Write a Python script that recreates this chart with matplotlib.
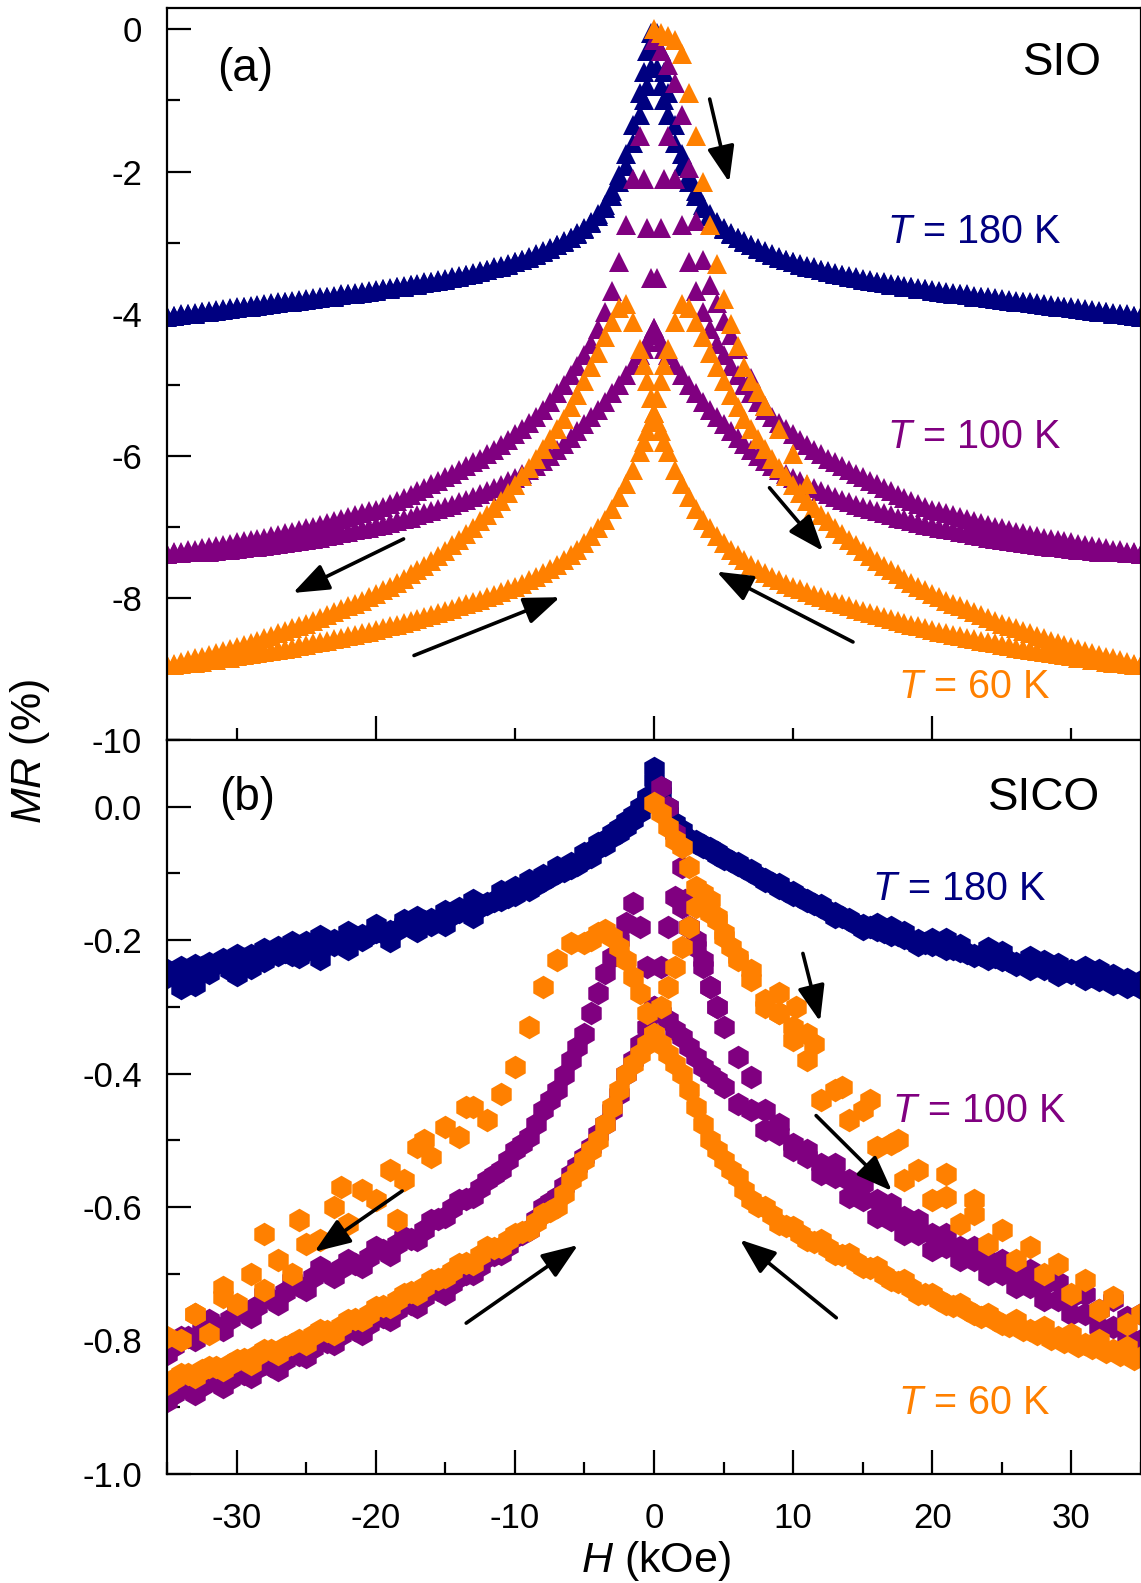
import matplotlib
matplotlib.use("Agg")
import matplotlib.pyplot as plt
from matplotlib.ticker import MultipleLocator

plt.rcParams["font.family"] = ["Liberation Sans", "DejaVu Sans"]
plt.rcParams["mathtext.fontset"] = "custom"
plt.rcParams["mathtext.rm"] = "Liberation Sans"
plt.rcParams["mathtext.it"] = "Liberation Sans:italic"
plt.rcParams["axes.unicode_minus"] = False

NAVY = "#000080"
PURPLE = "#800080"
ORANGE = "#ff8000"

# ---------------- (a) SIO : field grid (kOe) and MR (%) per sweep ----------------
H_A = [-35, -34.5, -34, -33.5, -33, -32.5, -32, -31.5, -31, -30.5,
       -30, -29.5, -29, -28.5, -28, -27.5, -27, -26.5, -26, -25.5,
       -25, -24.5, -24, -23.5, -23, -22.5, -22, -21.5, -21, -20.5,
       -20, -19.5, -19, -18.5, -18, -17.5, -17, -16.5, -16, -15.5,
       -15, -14.5, -14, -13.5, -13, -12.5, -12, -11.5, -11, -10.5,
       -10, -9.5, -9, -8.5, -8, -7.5, -7, -6.5, -6, -5.5,
       -5, -4.5, -4, -3.5, -3, -2.5, -2, -1.5,
       -1, -0.75, -0.5, -0.25, 0, 0.25, 0.5, 0.75, 1,
       1.5, 2, 2.5, 3, 3.5, 4, 4.5, 5,
       5.5, 6, 6.5, 7, 7.5, 8, 8.5, 9, 9.5, 10,
       10.5, 11, 11.5, 12, 12.5, 13, 13.5, 14, 14.5, 15,
       15.5, 16, 16.5, 17, 17.5, 18, 18.5, 19, 19.5, 20,
       20.5, 21, 21.5, 22, 22.5, 23, 23.5, 24, 24.5, 25,
       25.5, 26, 26.5, 27, 27.5, 28, 28.5, 29, 29.5, 30,
       30.5, 31, 31.5, 32, 32.5, 33, 33.5, 34, 34.5, 35]

# T = 180 K, sweep +35 -> -35 (down) and -35 -> +35 (up)
sio_180_down = [-4.04, -4.03, -4.01, -4.00, -3.99, -3.97, -3.96, -3.95, -3.94, -3.92,
                -3.91, -3.90, -3.89, -3.88, -3.87, -3.85, -3.84, -3.83, -3.82, -3.81,
                -3.80, -3.78, -3.77, -3.76, -3.75, -3.73, -3.72, -3.71, -3.70, -3.68,
                -3.67, -3.65, -3.64, -3.62, -3.61, -3.59, -3.58, -3.56, -3.55, -3.53,
                -3.51, -3.49, -3.47, -3.45, -3.43, -3.40, -3.38, -3.35, -3.33, -3.30,
                -3.27, -3.24, -3.20, -3.16, -3.12, -3.08, -3.03, -2.98, -2.93, -2.87,
                -2.80, -2.71, -2.60, -2.47, -2.28, -2.05, -1.75, -1.35,
                -0.90, -0.60, -0.30, -0.05, -0.30, -0.55, -0.80, -1.00, -1.20,
                -1.60, -1.92, -2.15, -2.35, -2.52, -2.63, -2.73, -2.81,
                -2.88, -2.94, -2.99, -3.04, -3.09, -3.13, -3.17, -3.21, -3.25, -3.28,
                -3.31, -3.34, -3.36, -3.39, -3.41, -3.44, -3.46, -3.48, -3.50, -3.52,
                -3.54, -3.56, -3.57, -3.59, -3.60, -3.62, -3.63, -3.65, -3.66, -3.68,
                -3.69, -3.71, -3.72, -3.73, -3.74, -3.76, -3.77, -3.78, -3.79, -3.81,
                -3.82, -3.83, -3.84, -3.85, -3.86, -3.88, -3.89, -3.90, -3.91, -3.92,
                -3.93, -3.95, -3.96, -3.97, -3.98, -4.00, -4.01, -4.02, -4.04, -4.05]
sio_180_up = [-4.05, -4.04, -4.02, -4.01, -4.00, -3.98, -3.97, -3.96, -3.95, -3.93,
              -3.92, -3.91, -3.90, -3.89, -3.88, -3.86, -3.85, -3.84, -3.83, -3.82,
              -3.81, -3.79, -3.78, -3.77, -3.76, -3.74, -3.73, -3.72, -3.71, -3.69,
              -3.68, -3.66, -3.65, -3.63, -3.62, -3.60, -3.59, -3.57, -3.56, -3.54,
              -3.52, -3.50, -3.48, -3.46, -3.44, -3.41, -3.39, -3.36, -3.34, -3.31,
              -3.28, -3.25, -3.21, -3.17, -3.13, -3.09, -3.04, -2.99, -2.94, -2.88,
              -2.81, -2.73, -2.63, -2.52, -2.35, -2.15, -1.92, -1.60,
              -1.20, -1.00, -0.80, -0.55, -0.30, -0.05, -0.30, -0.60, -0.90,
              -1.35, -1.75, -2.05, -2.28, -2.47, -2.60, -2.71, -2.80,
              -2.87, -2.93, -2.98, -3.03, -3.08, -3.12, -3.16, -3.20, -3.24, -3.27,
              -3.30, -3.33, -3.35, -3.38, -3.40, -3.43, -3.45, -3.47, -3.49, -3.51,
              -3.53, -3.55, -3.56, -3.58, -3.59, -3.61, -3.62, -3.64, -3.65, -3.67,
              -3.68, -3.70, -3.71, -3.72, -3.73, -3.75, -3.76, -3.77, -3.78, -3.80,
              -3.81, -3.82, -3.83, -3.84, -3.85, -3.87, -3.88, -3.89, -3.90, -3.91,
              -3.92, -3.94, -3.95, -3.96, -3.97, -3.99, -4.00, -4.01, -4.03, -4.04]

# T = 100 K
sio_100_down = [-7.38, -7.36, -7.35, -7.33, -7.32, -7.30, -7.29, -7.27, -7.26, -7.24,
                -7.22, -7.20, -7.19, -7.17, -7.15, -7.13, -7.11, -7.09, -7.07, -7.05,
                -7.02, -7.00, -6.97, -6.95, -6.92, -6.89, -6.86, -6.83, -6.80, -6.78,
                -6.76, -6.72, -6.68, -6.64, -6.60, -6.55, -6.50, -6.45, -6.40, -6.35,
                -6.30, -6.25, -6.20, -6.15, -6.09, -6.04, -5.98, -5.92, -5.85, -5.78,
                -5.70, -5.62, -5.54, -5.45, -5.35, -5.24, -5.12, -5.00, -4.87, -4.73,
                -4.58, -4.42, -4.22, -3.98, -3.68, -3.28, -2.75, -2.10,
                -1.50, -2.10, -2.80, -3.50, -4.20, -4.30, -4.40, -4.50, -4.58,
                -4.72, -4.87, -5.00, -5.12, -5.24, -5.35, -5.45, -5.55,
                -5.65, -5.75, -5.84, -5.92, -6.00, -6.07, -6.14, -6.20, -6.26, -6.31,
                -6.36, -6.41, -6.46, -6.50, -6.54, -6.58, -6.62, -6.65, -6.69, -6.72,
                -6.75, -6.78, -6.81, -6.84, -6.87, -6.89, -6.92, -6.94, -6.97, -6.99,
                -7.01, -7.03, -7.05, -7.07, -7.09, -7.11, -7.13, -7.15, -7.17, -7.18,
                -7.20, -7.21, -7.23, -7.24, -7.26, -7.27, -7.28, -7.29, -7.30, -7.31,
                -7.32, -7.33, -7.34, -7.35, -7.35, -7.36, -7.36, -7.37, -7.37, -7.38]
sio_100_up = [-7.38, -7.37, -7.37, -7.36, -7.36, -7.35, -7.35, -7.34, -7.33, -7.32,
              -7.31, -7.30, -7.29, -7.28, -7.27, -7.26, -7.24, -7.23, -7.21, -7.20,
              -7.18, -7.17, -7.15, -7.13, -7.11, -7.09, -7.07, -7.05, -7.03, -7.01,
              -6.99, -6.97, -6.94, -6.92, -6.89, -6.87, -6.84, -6.81, -6.78, -6.75,
              -6.72, -6.69, -6.65, -6.62, -6.58, -6.54, -6.50, -6.46, -6.41, -6.36,
              -6.31, -6.26, -6.20, -6.14, -6.07, -6.00, -5.92, -5.84, -5.75, -5.65,
              -5.55, -5.45, -5.35, -5.24, -5.12, -5.00, -4.87, -4.72,
              -4.58, -4.50, -4.40, -4.30, -4.20, -3.50, -2.80, -2.10, -1.50,
              -2.10, -2.75, -3.28, -3.68, -3.98, -4.22, -4.42, -4.58,
              -4.73, -4.87, -5.00, -5.12, -5.24, -5.35, -5.45, -5.54, -5.62, -5.70,
              -5.78, -5.85, -5.92, -5.98, -6.04, -6.09, -6.15, -6.20, -6.25, -6.30,
              -6.35, -6.40, -6.45, -6.50, -6.55, -6.60, -6.64, -6.68, -6.72, -6.76,
              -6.78, -6.80, -6.83, -6.86, -6.89, -6.92, -6.95, -6.97, -7.00, -7.02,
              -7.05, -7.07, -7.09, -7.11, -7.13, -7.15, -7.17, -7.19, -7.20, -7.22,
              -7.24, -7.26, -7.27, -7.29, -7.30, -7.32, -7.33, -7.35, -7.36, -7.38]

# T = 60 K
sio_60_down = [-8.95, -8.93, -8.90, -8.88, -8.85, -8.83, -8.80, -8.77, -8.75, -8.72,
               -8.69, -8.66, -8.63, -8.60, -8.57, -8.53, -8.50, -8.47, -8.43, -8.40,
               -8.36, -8.32, -8.28, -8.24, -8.20, -8.16, -8.12, -8.08, -8.04, -7.99,
               -7.94, -7.89, -7.84, -7.79, -7.73, -7.67, -7.61, -7.55, -7.48, -7.41,
               -7.34, -7.26, -7.18, -7.10, -7.01, -6.92, -6.83, -6.73, -6.63, -6.52,
               -6.41, -6.29, -6.17, -6.04, -5.91, -5.77, -5.63, -5.48, -5.32, -5.15,
               -4.95, -4.75, -4.55, -4.33, -4.12, -3.92, -3.87, -4.12,
               -4.50, -4.72, -4.95, -5.18, -5.40, -5.52, -5.65, -5.80, -5.95,
               -6.20, -6.40, -6.58, -6.75, -6.90, -7.02, -7.13, -7.23,
               -7.32, -7.40, -7.47, -7.53, -7.59, -7.65, -7.70, -7.75, -7.80, -7.84,
               -7.88, -7.92, -7.96, -7.99, -8.03, -8.06, -8.09, -8.12, -8.15, -8.18,
               -8.21, -8.24, -8.27, -8.30, -8.33, -8.35, -8.38, -8.40, -8.43, -8.45,
               -8.48, -8.50, -8.52, -8.54, -8.56, -8.58, -8.60, -8.62, -8.64, -8.66,
               -8.68, -8.70, -8.72, -8.73, -8.75, -8.76, -8.78, -8.79, -8.81, -8.82,
               -8.84, -8.85, -8.87, -8.88, -8.90, -8.91, -8.92, -8.93, -8.94, -8.95]
sio_60_up = [-8.95, -8.94, -8.93, -8.92, -8.91, -8.90, -8.88, -8.87, -8.85, -8.84,
             -8.82, -8.81, -8.79, -8.78, -8.76, -8.75, -8.73, -8.72, -8.70, -8.68,
             -8.66, -8.64, -8.62, -8.60, -8.58, -8.56, -8.54, -8.52, -8.50, -8.48,
             -8.45, -8.43, -8.40, -8.38, -8.35, -8.33, -8.30, -8.27, -8.24, -8.21,
             -8.18, -8.15, -8.12, -8.09, -8.06, -8.03, -7.99, -7.96, -7.92, -7.88,
             -7.84, -7.80, -7.75, -7.70, -7.65, -7.59, -7.53, -7.47, -7.40, -7.32,
             -7.23, -7.13, -7.02, -6.90, -6.75, -6.58, -6.40, -6.20,
             -5.95, -5.80, -5.65, -5.52, -5.40, -5.18, -4.95, -4.72, -4.50,
             -4.12, -3.87, -3.92, -4.12, -4.33, -4.55, -4.75, -4.95,
             -5.15, -5.32, -5.48, -5.63, -5.77, -5.91, -6.04, -6.17, -6.29, -6.41,
             -6.52, -6.63, -6.73, -6.83, -6.92, -7.01, -7.10, -7.18, -7.26, -7.34,
             -7.41, -7.48, -7.55, -7.61, -7.67, -7.73, -7.79, -7.84, -7.89, -7.94,
             -7.99, -8.04, -8.08, -8.12, -8.16, -8.20, -8.24, -8.28, -8.32, -8.36,
             -8.40, -8.43, -8.47, -8.50, -8.53, -8.57, -8.60, -8.63, -8.66, -8.69,
             -8.72, -8.75, -8.77, -8.80, -8.83, -8.85, -8.88, -8.90, -8.93, -8.95]

# initial (virgin) curves starting from H = 0
sio_100_virgin_H = [0, 0.5, 1, 1.5, 2, 2.5, 3, 3.5, 4, 4.5, 5, 5.5, 6, 7, 8]
sio_100_virgin = [-0.15, -0.30, -0.50, -0.75, -1.20, -1.95, -2.70, -3.25, -3.60, -3.85, -4.10, -4.30, -4.50, -4.90, -5.30]
sio_60_virgin_H = [0, 0.5, 1, 1.5, 2, 2.5, 3, 3.5, 4, 4.5, 5, 5.5, 6, 6.5, 7, 7.5, 8, 9, 10, 11]
sio_60_virgin = [0.0, -0.05, -0.10, -0.15, -0.35, -0.90, -1.50, -2.15, -2.75, -3.30, -3.80, -4.15, -4.45, -4.75,
                 -4.95, -5.10, -5.30, -5.62, -5.98, -6.40]

# ---------------- (b) SICO ----------------
H_B = [-35, -34, -33, -32, -31, -30, -29, -28, -27, -26, -25, -24, -23, -22, -21,
       -20, -19, -18, -17, -16, -15, -14, -13, -12, -11, -10, -9, -8, -7, -6,
       -5, -4.5, -4, -3.5, -3, -2.5, -2, -1.5, -1, -0.5, 0, 0.5, 1, 1.5, 2, 2.5, 3, 3.5, 4, 4.5, 5,
       6, 7, 8, 9, 10, 11, 12, 13, 14, 15, 16, 17, 18, 19, 20,
       21, 22, 23, 24, 25, 26, 27, 28, 29, 30, 31, 32, 33, 34, 35]
# intermediate field points of the long tails
H_B_MID_L = [-34.5, -33.5, -32.5, -31.5, -30.5, -29.5, -28.5, -27.5, -26.5, -25.5,
             -24.5, -23.5, -22.5, -21.5, -20.5, -19.5, -18.5, -17.5, -16.5, -15.5,
             -14.5, -13.5, -12.5, -11.5, -10.5, -9.5, -8.5, -7.5, -6.5, -5.5]
H_B_MID_R = [5.5, 6.5, 7.5, 8.5, 9.5, 10.5, 11.5, 12.5, 13.5, 14.5,
             15.5, 16.5, 17.5, 18.5, 19.5, 20.5, 21.5, 22.5, 23.5, 24.5,
             25.5, 26.5, 27.5, 28.5, 29.5, 30.5, 31.5, 32.5, 33.5, 34.5]

sico_180_down = [-0.255, -0.240, -0.268, -0.235, -0.228, -0.252, -0.222, -0.232, -0.210, -0.222, -0.203, -0.228, -0.200, -0.214, -0.193,
                 -0.188, -0.202, -0.176, -0.187, -0.168, -0.178, -0.158, -0.166, -0.146, -0.140, -0.132, -0.125, -0.112, -0.100, -0.092,
                 -0.080, -0.075, -0.062, -0.058, -0.045, -0.040, -0.030, -0.020, -0.008, 0.010, 0.040, 0.020, -0.010, -0.030, -0.042,
                 -0.050, -0.055, -0.060, -0.065, -0.072, -0.078,
                 -0.088, -0.098, -0.108, -0.122, -0.128, -0.140, -0.150, -0.160, -0.170, -0.177, -0.185, -0.180, -0.197, -0.200, -0.208,
                 -0.198, -0.217, -0.224, -0.212, -0.230, -0.234, -0.225, -0.243, -0.236, -0.250, -0.258, -0.245, -0.266, -0.258, -0.272]
sico_180_up = [-0.245, -0.272, -0.238, -0.250, -0.232, -0.223, -0.242, -0.213, -0.222, -0.203, -0.216, -0.194, -0.208, -0.188, -0.200,
               -0.178, -0.186, -0.170, -0.166, -0.178, -0.156, -0.152, -0.140, -0.145, -0.126, -0.120, -0.110, -0.102, -0.090, -0.085,
               -0.070, -0.066, -0.055, -0.050, -0.040, -0.032, -0.022, -0.012, 0.000, 0.015, 0.058, 0.030, 0.000, -0.025, -0.035,
               -0.048, -0.052, -0.058, -0.062, -0.068, -0.075,
               -0.085, -0.095, -0.112, -0.116, -0.132, -0.142, -0.148, -0.165, -0.168, -0.184, -0.176, -0.192, -0.188, -0.207, -0.198,
               -0.214, -0.208, -0.222, -0.228, -0.218, -0.237, -0.244, -0.232, -0.252, -0.245, -0.240, -0.260, -0.252, -0.270, -0.262]
sico_180_mid_L = [-0.248, -0.245, -0.240, -0.236, -0.245, -0.228, -0.226, -0.222, -0.218, -0.225,
                  -0.210, -0.208, -0.204, -0.198, -0.192, -0.190, -0.185, -0.180, -0.172, -0.170,
                  -0.162, -0.155, -0.150, -0.142, -0.135, -0.125, -0.118, -0.106, -0.096, -0.088]
sico_180_mid_R = [-0.082, -0.092, -0.104, -0.115, -0.126, -0.136, -0.146, -0.156, -0.166, -0.176,
                  -0.180, -0.188, -0.192, -0.200, -0.204, -0.208, -0.214, -0.220, -0.222, -0.226,
                  -0.232, -0.236, -0.238, -0.244, -0.246, -0.250, -0.254, -0.256, -0.262, -0.266]

sico_100_down = [-0.820, -0.795, -0.800, -0.770, -0.785, -0.750, -0.765, -0.730, -0.745, -0.710, -0.725, -0.690, -0.705, -0.680, -0.690,
                 -0.660, -0.672, -0.645, -0.650, -0.620, -0.615, -0.590, -0.585, -0.560, -0.545, -0.515, -0.495, -0.455, -0.425, -0.380,
                 -0.340, -0.310, -0.280, -0.250, -0.225, -0.200, -0.175, -0.145, -0.180, -0.240, -0.300, -0.310, -0.320, -0.335, -0.345,
                 -0.360, -0.375, -0.390, -0.400, -0.410, -0.420,
                 -0.445, -0.455, -0.485, -0.490, -0.515, -0.525, -0.550, -0.555, -0.585, -0.590, -0.615, -0.620, -0.640, -0.640, -0.665,
                 -0.660, -0.680, -0.680, -0.700, -0.700, -0.720, -0.720, -0.740, -0.740, -0.760, -0.760, -0.780, -0.780, -0.795, -0.800]
sico_100_up = [-0.890, -0.870, -0.880, -0.860, -0.870, -0.850, -0.855, -0.835, -0.845, -0.820, -0.825, -0.800, -0.805, -0.780, -0.790,
               -0.765, -0.770, -0.745, -0.750, -0.725, -0.730, -0.705, -0.700, -0.675, -0.670, -0.645, -0.635, -0.600, -0.585, -0.550,
               -0.525, -0.510, -0.490, -0.475, -0.455, -0.430, -0.400, -0.380, -0.355, -0.330, -0.300, -0.240, -0.180, -0.135, -0.150,
               -0.180, -0.200, -0.230, -0.270, -0.300, -0.330,
               -0.375, -0.405, -0.455, -0.475, -0.505, -0.515, -0.535, -0.535, -0.560, -0.565, -0.590, -0.595, -0.615, -0.620, -0.640,
               -0.640, -0.660, -0.660, -0.680, -0.680, -0.700, -0.695, -0.715, -0.712, -0.735, -0.730, -0.755, -0.740, -0.765, -0.760]
sico_100_mid_upper_L = [-0.808, -0.795, -0.785, -0.778, -0.768, -0.758, -0.748, -0.738, -0.728, -0.718,
                        -0.705, -0.698, -0.692, -0.685, -0.675, -0.665, -0.655, -0.648, -0.635, -0.618,
                        -0.602, -0.588, -0.572, -0.552, -0.530, -0.505, -0.475, -0.440, -0.402, -0.360]
sico_100_mid_lower_L = [-0.880, -0.872, -0.868, -0.862, -0.858, -0.850, -0.842, -0.838, -0.830, -0.822,
                        -0.812, -0.802, -0.792, -0.785, -0.775, -0.765, -0.755, -0.745, -0.735, -0.725,
                        -0.715, -0.700, -0.688, -0.672, -0.658, -0.640, -0.618, -0.592, -0.568, -0.538]

sico_60_down = [-0.795, -0.800, -0.760, -0.790, -0.735, -0.745, -0.700, -0.725, -0.680, -0.700, -0.655, -0.650, -0.600, -0.625, -0.575,
                -0.590, -0.545, -0.560, -0.510, -0.525, -0.480, -0.495, -0.450, -0.470, -0.430, -0.390, -0.330, -0.270, -0.230, -0.205,
                -0.205, -0.200, -0.190, -0.185, -0.195, -0.210, -0.230, -0.255, -0.280, -0.310, -0.340, -0.355, -0.370, -0.385, -0.400,
                -0.425, -0.450, -0.475, -0.500, -0.515, -0.530,
                -0.555, -0.590, -0.600, -0.625, -0.630, -0.650, -0.650, -0.670, -0.670, -0.690, -0.690, -0.710, -0.710, -0.730, -0.730,
                -0.745, -0.745, -0.760, -0.760, -0.775, -0.770, -0.785, -0.780, -0.795, -0.790, -0.805, -0.800, -0.815, -0.810, -0.825]
sico_60_up = [-0.865, -0.850, -0.855, -0.840, -0.845, -0.830, -0.835, -0.815, -0.820, -0.805, -0.805, -0.785, -0.790, -0.770, -0.770,
              -0.750, -0.750, -0.730, -0.730, -0.710, -0.705, -0.685, -0.685, -0.660, -0.660, -0.640, -0.635, -0.610, -0.600, -0.560,
              -0.530, -0.515, -0.500, -0.475, -0.450, -0.425, -0.400, -0.385, -0.370, -0.355, -0.340, -0.300, -0.270, -0.240, -0.210,
              -0.180, -0.150, -0.130, -0.140, -0.165, -0.195,
              -0.225, -0.245, -0.300, -0.310, -0.350, -0.380, -0.440, -0.425, -0.470, -0.455, -0.510, -0.505, -0.560, -0.545, -0.590,
              -0.585, -0.625, -0.610, -0.655, -0.635, -0.680, -0.660, -0.700, -0.685, -0.730, -0.710, -0.755, -0.735, -0.775, -0.760]
sico_60_mid_L = [-0.858, -0.850, -0.845, -0.840, -0.835, -0.828, -0.822, -0.815, -0.810, -0.800,
                 -0.792, -0.786, -0.778, -0.768, -0.760, -0.748, -0.740, -0.728, -0.720, -0.708,
                 -0.696, -0.684, -0.672, -0.662, -0.650, -0.638, -0.622, -0.606, -0.580, -0.548]
sico_60_mid_R = [-0.545, -0.575, -0.598, -0.612, -0.628, -0.640, -0.652, -0.662, -0.672, -0.682,
                 -0.692, -0.702, -0.712, -0.722, -0.730, -0.740, -0.748, -0.755, -0.765, -0.770,
                 -0.778, -0.785, -0.790, -0.798, -0.803, -0.808, -0.812, -0.818, -0.822, -0.828]

sico_100_virgin_H = [0.5, 1, 1.5, 2, 2.2, 2.5, 3, 3.5, 4, 4.5]
sico_100_virgin = [0.03, 0.0, -0.04, -0.09, -0.14, -0.18, -0.21, -0.24, -0.27, -0.30]
sico_60_virgin_H = [0, 0.5, 1, 1.5, 2, 2.5, 3, 3.5, 4, 4.5, 5, 5.5, 6, 7, 8, 9, 10, 11, 11.5]
sico_60_virgin = [0.005, -0.01, -0.03, -0.05, -0.06, -0.09, -0.12, -0.15, -0.16, -0.17, -0.19, -0.21, -0.23,
                  -0.26, -0.29, -0.31, -0.33, -0.34, -0.355]
# loose 60 K points off the main branches
sico_60_extra_H = [9.0, 10.2, 13.5, 15.5, 17.5, 21.0, 23.0, -13.5, -16.5, -18.5, -22.5, -25.5, -28.0, -31.0, -33.0]
sico_60_extra = [-0.28, -0.30, -0.42, -0.44, -0.50, -0.55, -0.59, -0.45, -0.50, -0.62, -0.57, -0.62, -0.64, -0.72, -0.76]

# arrows (start H, start MR, end H, end MR)
arrows_a = [(4.0, -0.98, 5.4, -2.15), (8.3, -6.45, 12.15, -7.34), (14.3, -8.62, 4.5, -7.63),
            (-18.0, -7.17, -25.95, -7.93), (-17.25, -8.81, -6.76, -7.99)]
arrows_b = [(10.7, -0.22, 11.93, -0.322), (11.65, -0.463, 17.1, -0.576), (13.1, -0.766, 6.18, -0.649),
            (-18.1, -0.576, -24.4, -0.667), (-13.5, -0.774, -5.46, -0.657)]

fig = plt.figure(figsize=(11.41, 15.83), dpi=100)
ax_a = fig.add_axes([0.1464, 0.5325, 0.8536, 0.4624])
ax_b = fig.add_axes([0.1464, 0.0689, 0.8536, 0.4637])


def style_axis(ax):
    ax.set_xlim(-35, 35)
    for sp in ax.spines.values():
        sp.set_linewidth(1.6)
    ax.tick_params(which="both", direction="in", width=1.6, top=False, right=False,
                   labelsize=25, colors="black")
    ax.tick_params(which="major", length=17)
    ax.tick_params(which="minor", length=9)
    ax.tick_params(axis="y", pad=18)
    ax.tick_params(axis="x", pad=20)


def draw_arrows(ax, arrows):
    for x0, y0, x1, y1 in arrows:
        ax.annotate("", xy=(x1, y1), xytext=(x0, y0),
                    arrowprops=dict(arrowstyle="-|>,head_length=1.0,head_width=0.38",
                                    color="black", lw=2.6, mutation_scale=22,
                                    shrinkA=0, shrinkB=0))


# panel (a)
mk = dict(ls="none", marker="^", ms=14, mew=0)
ax_a.plot(H_A, sio_180_down, color=NAVY, **mk)
ax_a.plot(H_A, sio_180_up, color=NAVY, **mk)
ax_a.plot(H_A, sio_100_down, color=PURPLE, **mk)
ax_a.plot(H_A, sio_100_up, color=PURPLE, **mk)
ax_a.plot(sio_100_virgin_H, sio_100_virgin, color=PURPLE, **mk)
ax_a.plot(H_A, sio_60_down, color=ORANGE, **mk)
ax_a.plot(H_A, sio_60_up, color=ORANGE, **mk)
ax_a.plot(sio_60_virgin_H, sio_60_virgin, color=ORANGE, **mk)

style_axis(ax_a)
ax_a.set_ylim(-10, 0.3)
ax_a.xaxis.set_major_locator(MultipleLocator(20))
ax_a.xaxis.set_minor_locator(MultipleLocator(10))
ax_a.yaxis.set_major_locator(MultipleLocator(2))
ax_a.yaxis.set_minor_locator(MultipleLocator(1))
ax_a.tick_params(axis="x", labelbottom=False)
draw_arrows(ax_a, arrows_a)

ax_a.text(0.08, 0.917, "(a)", transform=ax_a.transAxes, fontsize=33, ha="center", va="center")
ax_a.text(0.919, 0.925, "SIO", transform=ax_a.transAxes, fontsize=33, ha="center", va="center")
ax_a.text(0.829, 0.694, "$T$ = 180 K", transform=ax_a.transAxes, fontsize=28.5, color=NAVY, ha="center", va="center")
ax_a.text(0.829, 0.414, "$T$ = 100 K", transform=ax_a.transAxes, fontsize=28.5, color=PURPLE, ha="center", va="center")
ax_a.text(0.829, 0.072, "$T$ = 60 K", transform=ax_a.transAxes, fontsize=28.5, color=ORANGE, ha="center", va="center")

# panel (b)
mk = dict(ls="none", marker="h", ms=17, mew=0)
ax_b.plot(H_B, sico_180_down, color=NAVY, **mk)
ax_b.plot(H_B, sico_180_up, color=NAVY, **mk)
ax_b.plot(H_B_MID_L, sico_180_mid_L, color=NAVY, **mk)
ax_b.plot(H_B_MID_R, sico_180_mid_R, color=NAVY, **mk)
ax_b.plot(H_B, sico_100_down, color=PURPLE, **mk)
ax_b.plot(H_B, sico_100_up, color=PURPLE, **mk)
ax_b.plot(H_B_MID_L, sico_100_mid_upper_L, color=PURPLE, **mk)
ax_b.plot(H_B_MID_L, sico_100_mid_lower_L, color=PURPLE, **mk)
ax_b.plot(sico_100_virgin_H, sico_100_virgin, color=PURPLE, **mk)
ax_b.plot(H_B, sico_60_down, color=ORANGE, **mk)
ax_b.plot(H_B, sico_60_up, color=ORANGE, **mk)
ax_b.plot(H_B_MID_L, sico_60_mid_L, color=ORANGE, **mk)
ax_b.plot(H_B_MID_R, sico_60_mid_R, color=ORANGE, **mk)
ax_b.plot(sico_60_virgin_H, sico_60_virgin, color=ORANGE, **mk)
ax_b.plot(sico_60_extra_H, sico_60_extra, color=ORANGE, **mk)

style_axis(ax_b)
ax_b.set_ylim(-1.0, 0.1)
ax_b.xaxis.set_major_locator(MultipleLocator(10))
ax_b.xaxis.set_minor_locator(MultipleLocator(5))
ax_b.yaxis.set_major_locator(MultipleLocator(0.2))
ax_b.yaxis.set_minor_locator(MultipleLocator(0.1))
ax_b.yaxis.set_major_formatter(plt.FuncFormatter(lambda v, p: f"{v:.1f}"))
draw_arrows(ax_b, arrows_b)

ax_b.text(0.082, 0.921, "(b)", transform=ax_b.transAxes, fontsize=33, ha="center", va="center")
ax_b.text(0.901, 0.921, "SICO", transform=ax_b.transAxes, fontsize=33, ha="center", va="center")
ax_b.text(0.813, 0.797, "$T$ = 180 K", transform=ax_b.transAxes, fontsize=28.5, color=NAVY, ha="center", va="center")
ax_b.text(0.834, 0.495, "$T$ = 100 K", transform=ax_b.transAxes, fontsize=28.5, color=PURPLE, ha="center", va="center")
ax_b.text(0.829, 0.097, "$T$ = 60 K", transform=ax_b.transAxes, fontsize=28.5, color=ORANGE, ha="center", va="center")

fig.text(0.026, 0.525, "$MR$ (%)", rotation=90, fontsize=31, ha="center", va="center")
fig.text(0.575, 0.014, "$H$ (kOe)", fontsize=31, ha="center", va="center")

fig.savefig("out.png", dpi=100)
